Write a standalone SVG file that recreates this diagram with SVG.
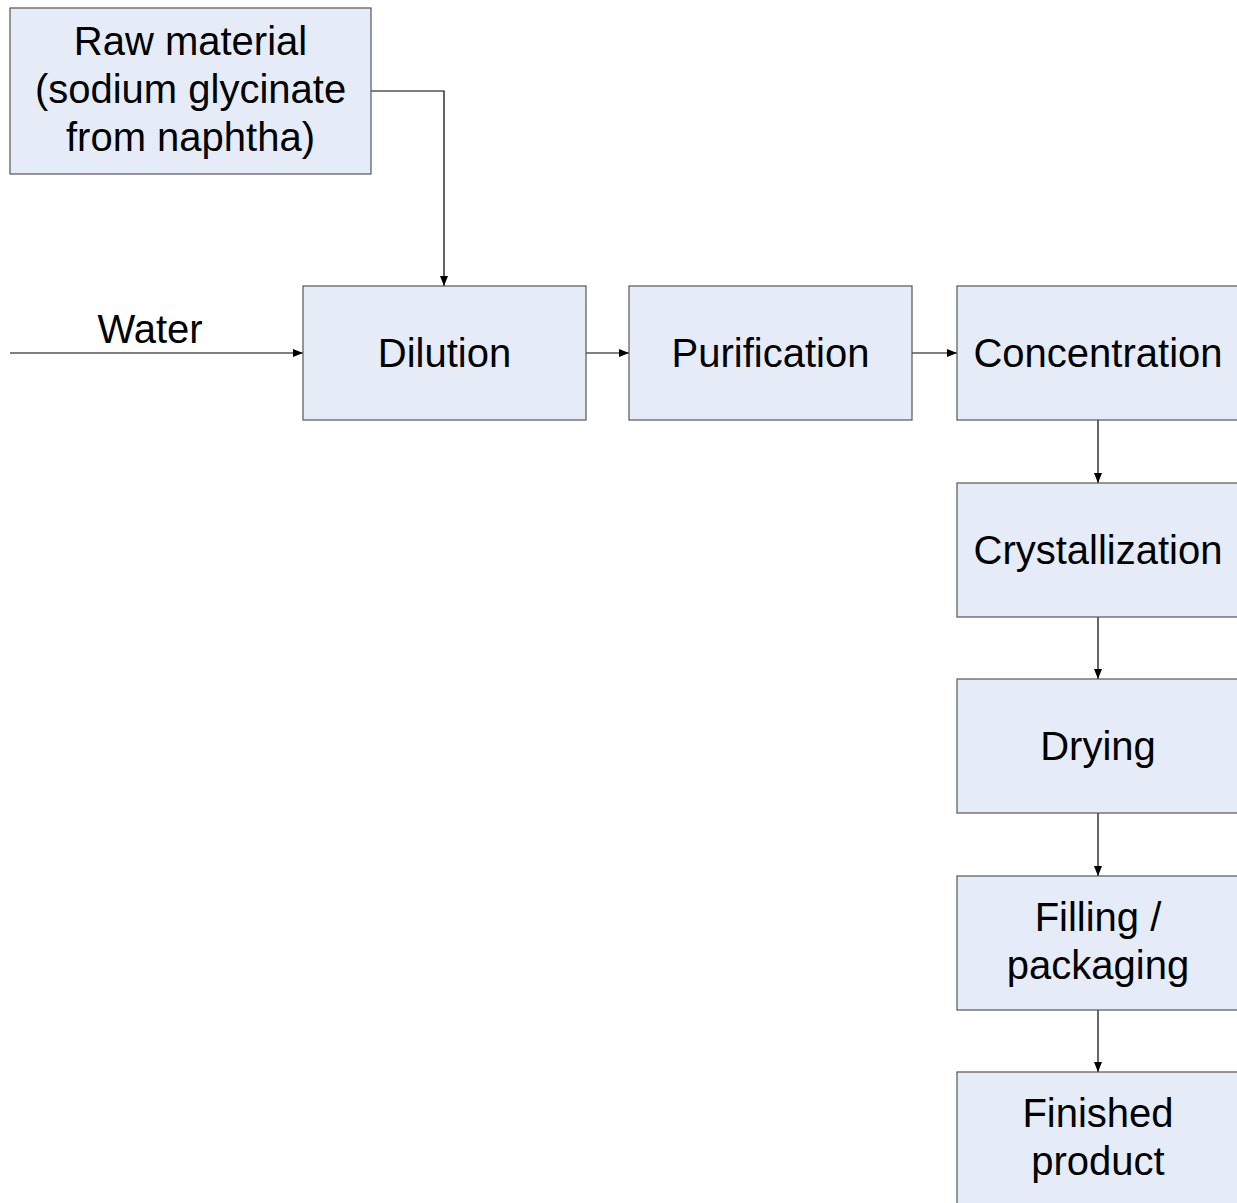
<svg xmlns="http://www.w3.org/2000/svg" width="1237" height="1203" viewBox="0 0 1237 1203">
<style>
.box{fill:#E6ECF7;stroke:#555;stroke-width:1.2}
.t{font-family:"Liberation Sans",Arial,sans-serif;font-size:40px;fill:#000;text-anchor:middle}
.c{fill:none;stroke:#000;stroke-width:1.2}
</style>
<defs>
<marker id="ah" markerWidth="10" markerHeight="8" refX="10" refY="4" orient="auto" markerUnits="userSpaceOnUse">
<path d="M0,0 L10,4 L0,8 Z" fill="#000"/>
</marker>
</defs>
<rect width="1237" height="1203" fill="#fff"/>
<g id="connectors">
<path class="c" d="M371,91 H444 V286" marker-end="url(#ah)"/>
<path class="c" d="M10,353 H303" marker-end="url(#ah)"/>
<path class="c" d="M586,353 H629" marker-end="url(#ah)"/>
<path class="c" d="M912,353 H957" marker-end="url(#ah)"/>
<path class="c" d="M1098,420 V483" marker-end="url(#ah)"/>
<path class="c" d="M1098,617 V679" marker-end="url(#ah)"/>
<path class="c" d="M1098,813 V876" marker-end="url(#ah)"/>
<path class="c" d="M1098,1010 V1072" marker-end="url(#ah)"/>
</g>
<g id="water-label"><text class="t" x="150" y="343">Water</text></g>
<g id="raw"><rect class="box" x="10" y="8" width="361" height="166"/>
<text class="t" x="190.5" y="55">Raw material</text>
<text class="t" x="190.5" y="103">(sodium glycinate</text>
<text class="t" x="190.5" y="151">from naphtha)</text></g>
<g id="dilution"><rect class="box" x="303" y="286" width="283" height="134"/><text class="t" x="444.5" y="367">Dilution</text></g>
<g id="purification"><rect class="box" x="629" y="286" width="283" height="134"/><text class="t" x="770.5" y="367">Purification</text></g>
<g id="concentration"><rect class="box" x="957" y="286" width="283" height="134"/><text class="t" x="1098" y="367">Concentration</text></g>
<g id="crystallization"><rect class="box" x="957" y="483" width="283" height="134"/><text class="t" x="1098" y="564">Crystallization</text></g>
<g id="drying"><rect class="box" x="957" y="679" width="283" height="134"/><text class="t" x="1098" y="760">Drying</text></g>
<g id="filling"><rect class="box" x="957" y="876" width="283" height="134"/><text class="t" x="1098" y="931">Filling /</text><text class="t" x="1098" y="979">packaging</text></g>
<g id="finished"><rect class="box" x="957" y="1072" width="283" height="134"/><text class="t" x="1098" y="1127">Finished</text><text class="t" x="1098" y="1175">product</text></g>
</svg>
